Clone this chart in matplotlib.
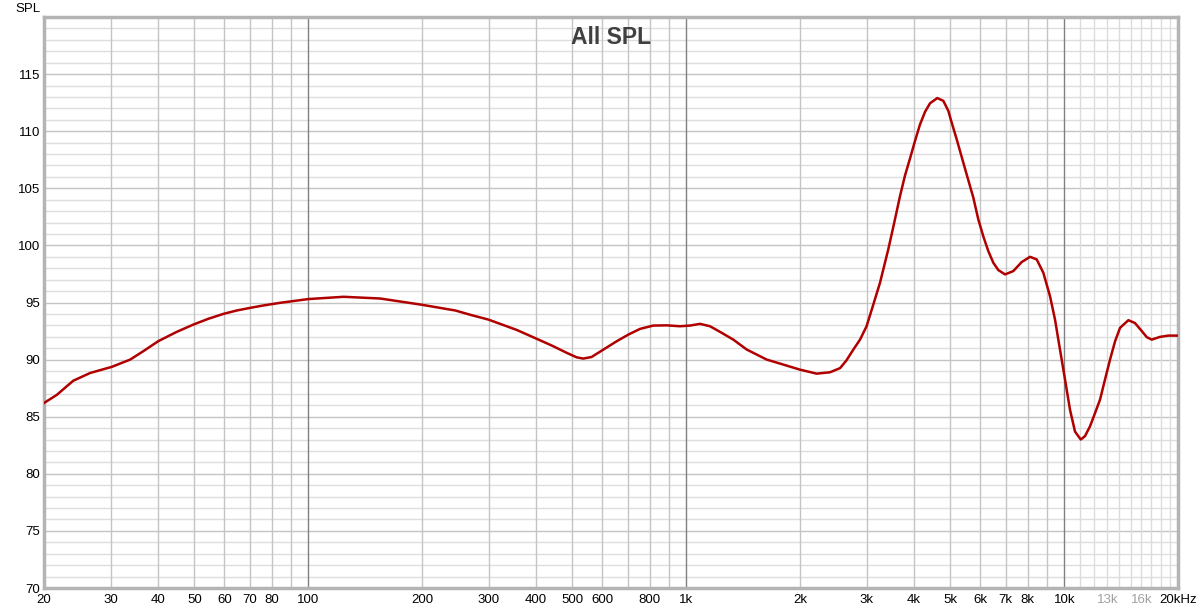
import matplotlib.pyplot as plt
from matplotlib.ticker import FixedLocator, NullFormatter

plt.rcParams['font.family'] = ['Liberation Sans', 'DejaVu Sans']

# frequency response (Hz, dB)
freq = [20, 21.6, 23.9, 26.5, 30.2, 33.8, 36.6, 40.1, 44.9, 49.7, 54.4, 59.6, 64.7,
        70.2, 76.1, 84.2, 100, 124, 155, 200, 245, 270, 300, 356,
        410, 445, 483, 513, 534, 562, 604, 655, 703, 755, 818, 888, 963, 1023,
        1088, 1156, 1242, 1332, 1446, 1633, 1771, 2000, 2214, 2400, 2552, 2650,
        2768, 2883, 3000, 3126, 3256, 3424, 3546, 3677, 3790, 3908, 4030, 4155, 4284,
        4417, 4616, 4788, 4937, 5008, 5194, 5408, 5633, 5747, 5925, 6108, 6298,
        6493, 6694, 6973, 7333, 7718, 8120, 8458, 8806, 9172, 9456, 9648, 10050,
        10360, 10680, 11060, 11350, 11700, 12060, 12440, 12820, 13220, 13630,
        14050, 14780, 15390, 16040, 16530, 17040, 17930, 18850, 20000]
spl = [86.2, 86.9, 88.15, 88.83, 89.36, 90.0, 90.73, 91.61, 92.43, 93.07, 93.57, 94.0, 94.3,
       94.53, 94.74, 94.97, 95.3, 95.5, 95.35, 94.8, 94.3, 93.9, 93.5, 92.6,
       91.7, 91.17, 90.59, 90.2, 90.09, 90.23, 90.88, 91.61, 92.19, 92.69, 92.98, 93.0, 92.92, 92.98,
       93.13, 92.92, 92.34, 91.75, 90.88, 90.0, 89.65, 89.12, 88.77, 88.89, 89.25, 89.9,
       90.88, 91.75, 92.92, 94.82, 96.73, 99.65, 101.9, 104.3, 106.1, 107.6, 109.15, 110.6, 111.7,
       112.45, 112.9, 112.66, 111.78, 111.05, 109.3, 107.25, 105.2, 104.2, 102.28, 100.8, 99.5,
       98.48, 97.84, 97.46, 97.75, 98.54, 99.0, 98.77, 97.6, 95.55, 93.5, 91.75, 88.25,
       85.6, 83.7, 83.0, 83.3, 84.15, 85.3, 86.5, 88.25, 90.0, 91.6,
       92.78, 93.45, 93.2, 92.5, 91.97, 91.75, 91.99, 92.1, 92.1]

x_ticks = [20, 30, 40, 50, 60, 70, 80, 100, 200, 300, 400, 500, 600, 800, 1000,
           2000, 3000, 4000, 5000, 6000, 7000, 8000, 10000, 13000, 16000, 20000]
x_labels = ['20', '30', '40', '50', '60', '70', '80', '100', '200', '300', '400', '500',
            '600', '800', '1k', '2k', '3k', '4k', '5k', '6k', '7k', '8k', '10k', '13k',
            '16k', '20kHz']
y_ticks = [70, 75, 80, 85, 90, 95, 100, 105, 110, 115]

fig = plt.figure(figsize=(12, 6.12), dpi=100)
ax = fig.add_axes([44 / 1200, 24 / 612, 1134 / 1200, 571 / 612])
ax.set_xscale('log')
ax.set_xlim(20, 20000)
ax.set_ylim(70, 120)

# grid lines
for v in range(71, 120):
    c = '#c4c4c4' if v % 5 == 0 else '#dedede'
    ax.axhline(v, color=c, lw=1, zorder=0)
for dec in [10, 100, 1000]:
    for m in range(2, 10):
        f = dec * m
        if f < 20:
            continue
        ax.axvline(f, color='#c4c4c4', lw=1, zorder=0)
for f in [100, 1000, 10000]:
    ax.axvline(f, color='#808080', lw=1, zorder=0)
for f in range(11000, 20000, 1000):
    ax.axvline(f, color='#dcdcdc', lw=1, zorder=0)

ax.plot(freq, spl, color='#b00000', lw=1.8, zorder=3, solid_joinstyle='round')

ax.xaxis.set_major_locator(FixedLocator(x_ticks))
ax.set_xticklabels(x_labels)
ax.xaxis.set_minor_formatter(NullFormatter())
ax.set_yticks(y_ticks)
ax.tick_params(axis='both', which='both', length=0, labelsize=9.5, colors='black')
ax.tick_params(axis='x', pad=4)
ax.tick_params(axis='y', pad=3)
for lbl in ax.get_xticklabels():
    if lbl.get_text() in ('13k', '16k'):
        lbl.set_color('#a0a0a0')

for s in ax.spines.values():
    s.set_color('#b4b4b4')
    s.set_linewidth(2.5)

ax.text(0.5, 0.984, 'All SPL', transform=ax.transAxes, ha='center', va='top',
        fontsize=16.5, fontweight='bold', color='#404040')
fig.text(28 / 1200, 1 - 9 / 612, 'SPL', ha='center', va='center', fontsize=9.5)

fig.savefig('out.png', dpi=100)
